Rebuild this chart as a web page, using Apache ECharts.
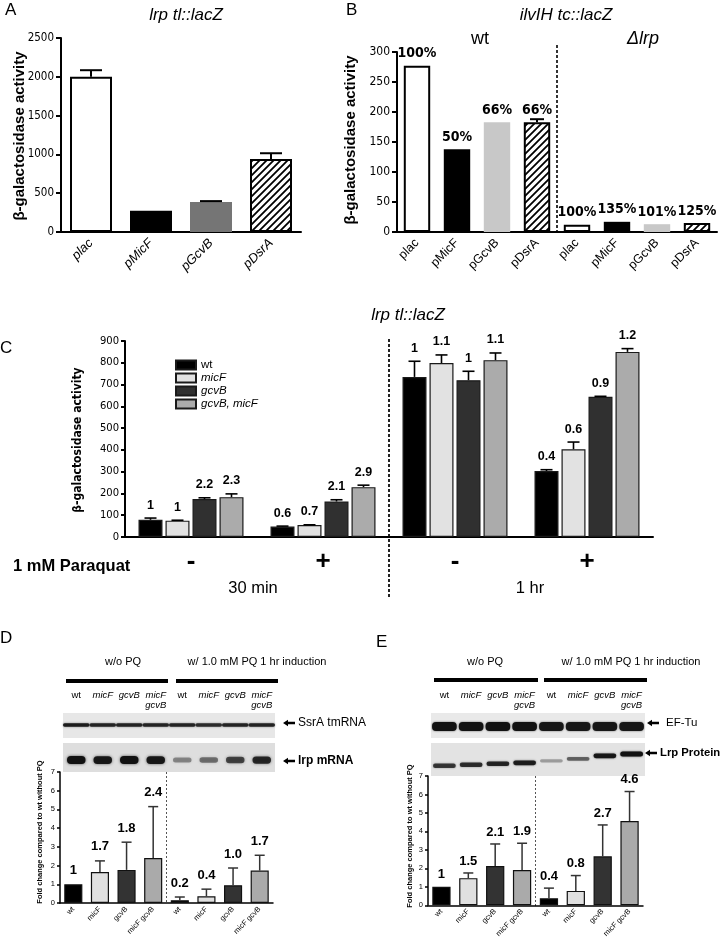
<!DOCTYPE html>
<html><head><meta charset="utf-8">
<script src="https://cdn.jsdelivr.net/npm/echarts@6/dist/echarts.min.js"></script>
<style>html,body{margin:0;padding:0;background:#fff}#c{width:720px;height:940px}</style>
</head><body><div id="c"></div>
<script>
// ---------------- DATA ----------------
// Panel A: lrp tl::lacZ
const catsA = ['plac', 'pMicF', 'pGcvB', 'pDsrA'];
const valsA = [2000, 275, 388, 940];
const errA  = [85, 0, 10, 75];
// Panel B: ilvIH tc::lacZ (wt | Δlrp)
const catsB = ['plac', 'pMicF', 'pGcvB', 'pDsrA', 'plac', 'pMicF', 'pGcvB', 'pDsrA'];
const valsB = [277, 138, 183, 183, 12, 17, 13, 15];
const errB  = [0, 0, 0, 5, 0, 0, 0, 0];
const pctB  = ['100%', '50%', '66%', '66%', '100%', '135%', '101%', '125%'];
// Panel C: lrp tl::lacZ, paraquat
const groupsC = ['-', '+', '-', '+'];
const strainsC = ['wt', 'micF', 'gcvB', 'gcvB, micF'];
const wtC   = [79, 48, 735, 303];   const wtErrC   = [8, 2, 72, 6];   const wtLblC   = ['1', '0.6', '1', '0.4'];
const micFC = [75, 55, 799, 403];   const micFErrC = [2, 1, 37, 33];  const micFLblC = ['1', '0.7', '1.1', '0.6'];
const gcvBC = [174, 163, 720, 644]; const gcvBErrC = [6, 8, 41, 2];   const gcvBLblC = ['2.2', '2.1', '1', '0.9'];
const gmC   = [183, 229, 812, 850]; const gmErrC   = [15, 9, 33, 15]; const gmLblC   = ['2.3', '2.9', '1.1', '1.2'];
// Panels D / E lanes
const lanes = ['wt', 'micF', 'gcvB', 'micF\ngcvB', 'wt', 'micF', 'gcvB', 'micF\ngcvB'];
const catsDE = ['wt', 'micF', 'gcvB', 'micF gcvB', 'wt', 'micF', 'gcvB', 'micF gcvB'];
// Panel D: lrp mRNA fold change
const valsD = [1.0, 1.65, 1.77, 2.4, 0.15, 0.36, 0.95, 1.73];
const errD  = [0, 0.6, 1.48, 2.75, 0.17, 0.38, 0.92, 0.82];
const lblD  = ['1', '1.7', '1.8', '2.4', '0.2', '0.4', '1.0', '1.7'];
// Panel E: Lrp protein fold change
const valsE = [1.0, 1.47, 2.13, 1.91, 0.38, 0.78, 2.65, 4.56];
const errE  = [0, 0.28, 1.19, 1.45, 0.55, 0.83, 1.7, 1.6];
const lblE  = ['1', '1.5', '2.1', '1.9', '0.4', '0.8', '2.7', '4.6'];
// Blot band intensities (0..1) and migration (0 bottom .. 1 top of strip)
const ssrABand   = [0.9, 0.85, 0.85, 0.85, 0.85, 0.8, 0.85, 0.85];
const lrpRnaBand = [1.0, 0.95, 1.0, 0.95, 0.4, 0.5, 0.7, 0.85];
const efTuBand   = [1.0, 1.0, 1.0, 1.0, 0.95, 0.95, 0.95, 0.95];
const lrpProtBand = [0.75, 0.8, 0.85, 0.9, 0.3, 0.55, 0.95, 1.0];
const lrpProtMigration = [0.31, 0.34, 0.37, 0.4, 0.46, 0.52, 0.61, 0.67];

// ---------------- STYLE HELPERS ----------------
const NAR = "'Liberation Sans Narrow','Arial Narrow','DejaVu Sans Condensed',sans-serif";
const ARI = "'Liberation Sans',Arial,Helvetica,sans-serif";
const DJV = "'DejaVu Sans',sans-serif";

function hatchCanvas() {
  const c = document.createElement('canvas'); c.width = 7; c.height = 7;
  const g = c.getContext('2d');
  g.fillStyle = '#fff'; g.fillRect(0, 0, 7, 7);
  g.strokeStyle = '#000'; g.lineWidth = 1.8; g.beginPath();
  g.moveTo(-1, 8); g.lineTo(8, -1);
  g.moveTo(-1, 1); g.lineTo(1, -1);
  g.moveTo(6, 8); g.lineTo(8, 6);
  g.stroke();
  return c;
}
const HATCH = { image: hatchCanvas(), repetition: 'repeat' };

const styleAB = [
  { color: '#fff', borderColor: '#000', borderWidth: 2 },
  { color: '#000' },
  null,
  { color: HATCH, borderColor: '#000', borderWidth: 2 }
];
const fillDE = ['#000', '#e0e0e0', '#333', '#aaa'];

function errSeries(xi, yi, vals, errs, labels, o) {
  return {
    type: 'custom', xAxisIndex: xi, yAxisIndex: yi, clip: false, silent: true, z: 5,
    data: vals.map((v, i) => [i, v, errs[i]]),
    encode: { x: 0, y: 1 },
    renderItem: function (params, api) {
      const i = api.value(0), v = api.value(1), e = api.value(2);
      const p0 = api.coord([i, v]);
      const p1 = api.coord([i, v + e]);
      const x = p0[0] + (o.offset || 0);
      const ch = [];
      const col = o.color || '#000';
      if (e > 0) {
        ch.push({ type: 'line', shape: { x1: x, y1: p0[1], x2: x, y2: p1[1] }, style: { stroke: col, lineWidth: o.lw } });
        ch.push({ type: 'line', shape: { x1: x - o.cap / 2, y1: p1[1], x2: x + o.cap / 2, y2: p1[1] }, style: { stroke: col, lineWidth: o.lw } });
      }
      if (labels) {
        ch.push({ type: 'text', style: { text: labels[params.dataIndex], x: x, y: p1[1] - o.gap, align: 'center', verticalAlign: 'middle',
          fontSize: o.fs, fontWeight: 'bold', fontFamily: o.ff || ARI, fill: '#000' } });
      }
      return { type: 'group', children: ch };
    }
  };
}

function blotSeries(xi, yi, intens, pos, o) {
  return {
    type: 'custom', xAxisIndex: xi, yAxisIndex: yi, clip: false, silent: true,
    data: intens.map((k, i) => [i, Array.isArray(pos) ? pos[i] : pos, k]),
    encode: { x: 0, y: 1 },
    renderItem: function (params, api) {
      const i = api.value(0), p = api.value(1), k = api.value(2);
      const c = api.coord([i, p]);
      const lane = api.size([1, 0])[0];
      const w = lane * o.w;
      const h = o.h0 + o.h1 * k;
      return { type: 'rect', shape: { x: c[0] - w / 2, y: c[1] - h / 2, width: w, height: h, r: o.r != null ? o.r : h / 2 },
        style: { fill: 'rgba(18,18,18,' + k + ')', shadowBlur: o.blur, shadowColor: 'rgba(18,18,18,' + (k * 0.7) + ')' } };
    }
  };
}

function laneLabel(v, i) { return lanes[i] === 'wt' ? 'wt' : '{i|' + lanes[i] + '}'; }
const plain = v => String(v);

const axisBlack = (w) => ({ show: true, lineStyle: { color: '#000', width: w } });

const grids = [
  { left: 61, top: 38, width: 240, height: 194 },     // 0 A
  { left: 397, top: 52, width: 320, height: 180 },    // 1 B
  { left: 125, top: 341, width: 528, height: 196 },   // 2 C
  { left: 60, top: 772, width: 213, height: 131 },    // 3 D chart
  { left: 428, top: 776, width: 215, height: 131 },   // 4 E chart
  { left: 63, top: 713, width: 212, height: 25, show: true, backgroundColor: '#e7e7e7', borderWidth: 0 },  // 5 D SsrA
  { left: 63, top: 743, width: 212, height: 29, show: true, backgroundColor: '#dedede', borderWidth: 0 },  // 6 D lrp mRNA
  { left: 431, top: 713, width: 214, height: 25, show: true, backgroundColor: '#e9e9e9', borderWidth: 0 }, // 7 E EF-Tu
  { left: 431, top: 743, width: 214, height: 33, show: true, backgroundColor: '#e3e3e3', borderWidth: 0 }  // 8 E Lrp
];

const xAxes = [
  { gridIndex: 0, type: 'category', data: catsA, axisLine: axisBlack(2),
    axisTick: { alignWithLabel: true, length: 5, lineStyle: { width: 2, color: '#000' } },
    axisLabel: { rotate: 45, fontStyle: 'italic', fontSize: 13, fontFamily: ARI, color: '#000', margin: 9 } },
  { gridIndex: 1, type: 'category', data: catsB.map((c, i) => i), axisLine: axisBlack(2),
    axisTick: { alignWithLabel: true, length: 5, lineStyle: { width: 2, color: '#000' } },
    axisLabel: { rotate: 45, fontSize: 12.5, fontFamily: ARI, color: '#000', margin: 9, formatter: (v, i) => catsB[i] } },
  { gridIndex: 2, type: 'category', data: groupsC.map((c, i) => i), axisLine: axisBlack(2),
    axisTick: { alignWithLabel: true, length: 5, lineStyle: { width: 2, color: '#000' } },
    axisLabel: { fontSize: 26, fontWeight: 'bold', fontFamily: ARI, color: '#000', margin: 12, formatter: (v, i) => groupsC[i] } },
  { gridIndex: 3, type: 'category', data: catsDE.map((c, i) => i), axisLine: axisBlack(1.5), axisTick: { show: false },
    axisLabel: { rotate: 45, fontSize: 7.5, fontFamily: ARI, color: '#000', margin: 5, interval: 0, formatter: (v, i) => catsDE[i] } },
  { gridIndex: 4, type: 'category', data: catsDE.map((c, i) => i), axisLine: axisBlack(1.5), axisTick: { show: false },
    axisLabel: { rotate: 45, fontSize: 7.5, fontFamily: ARI, color: '#000', margin: 5, interval: 0, formatter: (v, i) => catsDE[i] } },
  { gridIndex: 5, type: 'category', position: 'top', data: lanes.map((c, i) => i), axisLine: { show: false }, axisTick: { show: false },
    axisLabel: { interval: 0, margin: 23, verticalAlign: 'top', fontSize: 9.5, lineHeight: 10, fontFamily: ARI, color: '#000', formatter: laneLabel,
      rich: { i: { fontStyle: 'italic', fontSize: 9.5, lineHeight: 10, fontFamily: ARI } } } },
  { gridIndex: 6, type: 'category', data: lanes.map((c, i) => i), show: false },
  { gridIndex: 7, type: 'category', position: 'top', data: lanes.map((c, i) => i), axisLine: { show: false }, axisTick: { show: false },
    axisLabel: { interval: 0, margin: 23, verticalAlign: 'top', fontSize: 9.5, lineHeight: 10, fontFamily: ARI, color: '#000', formatter: laneLabel,
      rich: { i: { fontStyle: 'italic', fontSize: 9.5, lineHeight: 10, fontFamily: ARI } } } },
  { gridIndex: 8, type: 'category', data: lanes.map((c, i) => i), show: false }
];

function yVal(gi, max, interval, fs, ff, lw, tick, margin) {
  return { gridIndex: gi, type: 'value', min: 0, max: max, interval: interval, splitLine: { show: false },
    axisLine: axisBlack(lw), axisTick: { show: true, length: tick, lineStyle: { width: lw, color: '#000' } },
    axisLabel: { fontSize: fs, fontFamily: ff, color: '#000', margin: margin, formatter: plain } };
}
const yAxes = [
  yVal(0, 2500, 500, 11.5, NAR, 2, 5, 7),
  yVal(1, 300, 50, 12, NAR, 2, 5, 7),
  yVal(2, 900, 100, 10, DJV, 2, 4, 6),
  yVal(3, 7, 1, 7.5, ARI, 1.5, 3, 5),
  yVal(4, 7, 1, 7.5, ARI, 1.5, 3, 5),
  { gridIndex: 5, type: 'value', min: 0, max: 1, show: false },
  { gridIndex: 6, type: 'value', min: 0, max: 1, show: false },
  { gridIndex: 7, type: 'value', min: 0, max: 1, show: false },
  { gridIndex: 8, type: 'value', min: 0, max: 1, show: false }
];

const colorsC = ['#000000', '#e2e2e2', '#303030', '#ababab'];
const cVals = [wtC, micFC, gcvBC, gmC];
const cErrs = [wtErrC, micFErrC, gcvBErrC, gmErrC];
const cLbls = [wtLblC, micFLblC, gcvBLblC, gmLblC];

const series = [];
// A
series.push({ type: 'bar', xAxisIndex: 0, yAxisIndex: 0, barWidth: '70%',
  data: valsA.map((v, i) => ({ value: v, itemStyle: i === 2 ? { color: '#757575' } : styleAB[i] })) });
series.push(errSeries(0, 0, valsA, errA, null, { cap: 22, lw: 2 }));
// B
series.push({ type: 'bar', xAxisIndex: 1, yAxisIndex: 1, barWidth: '66%',
  data: valsB.map((v, i) => ({ value: v, itemStyle: (i % 4) === 2 ? { color: '#c8c8c8' } : styleAB[i % 4] })),
  label: { show: true, position: 'top', distance: 5, fontSize: 14, fontWeight: 'bold', fontFamily: NAR, color: '#000',
    formatter: p => pctB[p.dataIndex] } });
series.push(errSeries(1, 1, valsB, errB, null, { cap: 14, lw: 2 }));
// C
const bwC = 24, gapC = 3;
strainsC.forEach((name, s) => {
  series.push({ type: 'bar', name: name, xAxisIndex: 2, yAxisIndex: 2, barWidth: bwC, barGap: (gapC / bwC * 100) + '%',
    itemStyle: { color: colorsC[s], borderColor: '#1a1a1a', borderWidth: 1.2 }, data: cVals[s] });
});
strainsC.forEach((name, s) => {
  series.push(errSeries(2, 2, cVals[s], cErrs[s], cLbls[s],
    { offset: (s - 1.5) * (bwC + gapC), cap: 12, lw: 1.6, gap: 13, fs: 12.5, ff: ARI }));
});
// D
series.push({ type: 'bar', xAxisIndex: 3, yAxisIndex: 3, barWidth: '68%',
  data: valsD.map((v, i) => ({ value: v, itemStyle: { color: fillDE[i % 4], borderColor: '#111', borderWidth: 1.2 } })) });
series.push(errSeries(3, 3, valsD, errD, lblD, { cap: 10, lw: 1.5, gap: 14, fs: 13, color: '#333' }));
// E
series.push({ type: 'bar', xAxisIndex: 4, yAxisIndex: 4, barWidth: '68%',
  data: valsE.map((v, i) => ({ value: v, itemStyle: { color: fillDE[i % 4], borderColor: '#111', borderWidth: 1.2 } })) });
series.push(errSeries(4, 4, valsE, errE, lblE, { cap: 10, lw: 1.5, gap: 12, fs: 13, color: '#333' }));
// Blots
series.push(blotSeries(5, 5, ssrABand, 0.52, { w: 1.0, h0: 2.5, h1: 1, blur: 2 }));
series.push(blotSeries(6, 6, lrpRnaBand, 0.41, { w: 0.7, h0: 3, h1: 5, blur: 3 }));
series.push(blotSeries(7, 7, efTuBand, 0.46, { w: 0.92, h0: 5, h1: 4, blur: 2, r: 4 }));
series.push(blotSeries(8, 8, lrpProtBand, lrpProtMigration, { w: 0.85, h0: 2.5, h1: 2.5, blur: 2 }));

function txt(x, y, text, o) {
  o = o || {};
  return { type: 'text', x: x, y: y, rotation: o.rot || 0, silent: true,
    style: { text: text, fontSize: o.fs || 12, fontFamily: o.ff || ARI, fontWeight: o.fw || 'normal', fontStyle: o.it ? 'italic' : 'normal',
      fill: '#000', align: o.al || 'center', verticalAlign: o.va || 'middle' } };
}
function bar(x, y, w, h) { return { type: 'rect', silent: true, shape: { x: x, y: y, width: w, height: h }, style: { fill: '#000' } }; }
function arrow(x, y) {
  return { type: 'polygon', silent: true, shape: { points: [[x, y], [x + 5, y - 3.2], [x + 5, y - 1.2], [x + 12, y - 1.2], [x + 12, y + 1.2], [x + 5, y + 1.2], [x + 5, y + 3.2]] },
    style: { fill: '#000' } };
}

const graphics = [
  txt(5, 10, 'A', { fs: 17, al: 'left' }),
  txt(186, 15, 'lrp tl::lacZ', { fs: 17, it: true }),
  txt(20, 136, 'β-galactosidase activity', { fs: 15, fw: 'bold', rot: Math.PI / 2 }),
  txt(346, 10, 'B', { fs: 17, al: 'left' }),
  txt(566, 15, 'ilvIH tc::lacZ', { fs: 17, it: true }),
  txt(351, 140, 'β-galactosidase activity', { fs: 15, fw: 'bold', rot: Math.PI / 2 }),
  txt(480, 39, 'wt', { fs: 18 }),
  txt(643, 39, 'Δlrp', { fs: 18, it: true }),
  txt(0, 348, 'C', { fs: 17, al: 'left' }),
  txt(408, 315, 'lrp tl::lacZ', { fs: 17, it: true }),
  txt(78, 440, 'β-galactosidase activity', { fs: 12, fw: 'bold', ff: NAR, rot: Math.PI / 2 }),
  txt(13, 566, '1 mM Paraquat', { fs: 16.5, fw: 'bold', al: 'left' }),
  txt(253, 588, '30 min', { fs: 16.5 }),
  txt(530, 588, '1 hr', { fs: 16.5 }),
  // D
  txt(0, 638, 'D', { fs: 17, al: 'left' }),
  txt(123, 662, 'w/o PQ', { fs: 11 }),
  txt(257, 662, 'w/ 1.0 mM PQ 1 hr induction', { fs: 11 }),
  bar(66, 679, 102, 4), bar(176, 679, 102, 4),
  arrow(283, 723), txt(298, 723, 'SsrA tmRNA', { fs: 12, al: 'left' }),
  arrow(283, 761), txt(298, 761, 'lrp mRNA', { fs: 12, fw: 'bold', al: 'left' }),
  txt(40, 832, 'Fold change compared to wt without PQ', { fs: 7.5, fw: 'bold', rot: Math.PI / 2 }),
  // E
  txt(376, 642, 'E', { fs: 17, al: 'left' }),
  txt(485, 662, 'w/o PQ', { fs: 11 }),
  txt(631, 662, 'w/ 1.0 mM PQ 1 hr induction', { fs: 11 }),
  bar(434, 678, 104, 4), bar(544, 678, 103, 4),
  arrow(647, 723), txt(666, 723, 'EF-Tu', { fs: 11.5, al: 'left' }),
  arrow(645, 753), txt(660, 753, 'Lrp Protein', { fs: 11.3, fw: 'bold', al: 'left' }),
  txt(410, 836, 'Fold change compared to wt without PQ', { fs: 7.5, fw: 'bold', rot: Math.PI / 2 })
];

const chart = echarts.init(document.getElementById('c'), null, { renderer: 'canvas' });
chart.setOption({
  animation: false,
  backgroundColor: '#fff',
  grid: grids, xAxis: xAxes, yAxis: yAxes, series: series,
  legend: { data: strainsC, orient: 'vertical', left: 170, top: 354, itemWidth: 20, itemHeight: 9, itemGap: 1, icon: 'rect',
    selectedMode: false, textStyle: { fontSize: 11.5, lineHeight: 12, fontFamily: ARI, color: '#000',
      rich: { i: { fontStyle: 'italic', fontSize: 11.5, lineHeight: 12, fontFamily: ARI, color: '#000' } } },
    formatter: n => n === 'wt' ? n : '{i|' + n + '}' },
  graphic: graphics
});

function midX(xi, a, b) {
  return (chart.convertToPixel({ xAxisIndex: xi }, a) + chart.convertToPixel({ xAxisIndex: xi }, b)) / 2;
}
function dash(x, y1, y2, w, d, col) {
  return { type: 'line', silent: true, shape: { x1: x, y1: y1, x2: x, y2: y2 }, style: { stroke: col, lineWidth: w, lineDash: d } };
}
chart.setOption({ graphic: graphics.concat([
  dash(midX(1, 3, 4), 45, 232, 2, [3, 2], '#333'),
  dash(midX(2, 1, 2), 339, 597, 2, [3, 2], '#222'),
  dash(midX(3, 3, 4), 772, 903, 1, [2, 2], '#555'),
  dash(midX(4, 3, 4), 776, 907, 1, [2, 2], '#555')
]) });
</script></body></html>
